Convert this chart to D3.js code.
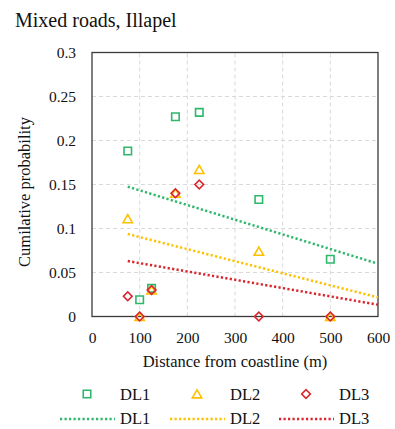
<!DOCTYPE html>
<html>
<head>
<meta charset="utf-8">
<script src="https://cdn.jsdelivr.net/npm/d3@7"></script>
<style>
  body { margin: 0; background: #fff; }
  text { font-family: "Liberation Serif", "Times New Roman", serif; fill: #111; }
</style>
</head>
<body>
<div id="chart"></div>
<script>
// distances (m) and cumulative probability per damage level
let distances = [75, 100, 125, 175, 225, 350, 500];
let dl1 = [0.188, 0.019, 0.032, 0.227, 0.232, 0.133, 0.065];
let dl2 = [0.111, 0, 0.030, 0.140, 0.167, 0.074, 0];
let dl3 = [0.023, 0, 0.030, 0.140, 0.150, 0, 0];

// trend lines: [x, y] at both ends
let trend1 = [[75, 0.1475], [600, 0.060]];
let trend2 = [[75, 0.0937], [600, 0.0217]];
let trend3 = [[75, 0.063], [600, 0.0134]];

let xTicks = [0, 100, 200, 300, 400, 500, 600];
let yTicks = [0, 0.05, 0.1, 0.15, 0.2, 0.25, 0.3];
let names = ['DL1', 'DL2', 'DL3'];
let colors = ['#2eb86b', '#ffc000', '#d9262c'];

//----------------------------------------
// SVG setup
let width = 395,
    height = 429;
let margin = {left: 92, right: 17, top: 52.5, bottom: 112.5};

let svg = d3.select('#chart').append('svg')
    .attr('width', width)
    .attr('height', height);

let x = d3.scaleLinear().domain([0, 600]).range([margin.left, width - margin.right]);
let y = d3.scaleLinear().domain([0, 0.3]).range([height - margin.bottom, margin.top]);

// title
svg.append('text')
    .attr('x', 15).attr('y', 27)
    .style('font-size', '20px')
    .text('Mixed roads, Illapel');

// grid
svg.append('g').selectAll('line')
    .data(xTicks.slice(1, -1))
    .enter().append('line')
    .attr('x1', d => x(d)).attr('x2', d => x(d))
    .attr('y1', y(0)).attr('y2', y(0.3))
    .style('stroke', '#d9d9d9').style('stroke-dasharray', '4,3');
svg.append('g').selectAll('line')
    .data(yTicks.slice(1, -1))
    .enter().append('line')
    .attr('x1', x(0)).attr('x2', x(600))
    .attr('y1', d => y(d)).attr('y2', d => y(d))
    .style('stroke', '#d9d9d9').style('stroke-dasharray', '4,3');

// axes (labels only, the box is drawn separately)
let xAxis = svg.append('g')
    .attr('transform', 'translate(0,' + y(0) + ')')
    .call(d3.axisBottom(x).tickValues(xTicks).tickSize(0).tickPadding(15).tickFormat(d3.format('d')));
let yAxis = svg.append('g')
    .attr('transform', 'translate(' + x(0) + ',0)')
    .call(d3.axisLeft(y).tickValues(yTicks).tickSize(0).tickPadding(16).tickFormat(d => d === 0 ? '0' : String(d)));
[xAxis, yAxis].forEach(function(a) {
    a.attr('font-family', null);
    a.select('.domain').remove();
    a.selectAll('text').style('font-size', '15.5px');
});

// plot frame
svg.append('rect')
    .attr('x', x(0)).attr('y', y(0.3))
    .attr('width', x(600) - x(0)).attr('height', y(0) - y(0.3))
    .style('fill', 'none').style('stroke', '#3a3a3a').style('stroke-width', 1.3);

// axis titles
svg.append('text')
    .attr('x', (x(0) + x(600)) / 2).attr('y', 367)
    .attr('text-anchor', 'middle')
    .style('font-size', '16.5px')
    .text('Distance from coastline (m)');
svg.append('text')
    .attr('transform', 'translate(30,192) rotate(-90)')
    .attr('text-anchor', 'middle')
    .style('font-size', '16.5px')
    .text('Cumilative probability');

// trend lines
let line = d3.line().x(d => x(d[0])).y(d => y(d[1]));
[trend1, trend2, trend3].forEach(function(t, i) {
    svg.append('path')
        .attr('d', line(t))
        .style('fill', 'none')
        .style('stroke', colors[i])
        .style('stroke-width', 2.5)
        .style('stroke-dasharray', '2.2,2.3');
});

// markers: square, triangle, diamond (square turned 45 degrees)
let symbols = [d3.symbolSquare, d3.symbolTriangle, d3.symbolSquare];
let sizes = [56, 38, 38];
let rotations = [0, 0, 45];
let shifts = [0, 1.2, 0];
let series = [dl1, dl2, dl3];
function marker(g, i, cx, cy) {
    return g.append('path')
        .attr('d', d3.symbol().type(symbols[i]).size(sizes[i])())
        .attr('transform', 'translate(' + cx + ',' + (cy + shifts[i]) + ') rotate(' + rotations[i] + ')')
        .style('fill', 'none')
        .style('stroke', colors[i])
        .style('stroke-width', 1.6);
}
series.forEach(function(vals, i) {
    let g = svg.append('g');
    vals.forEach(function(v, j) {
        marker(g, i, x(distances[j]), y(v));
    });
});

//----------------------------------------
// legend
let legX = [87, 197, 306];
names.forEach(function(n, i) {
    marker(svg, i, legX[i], 394);
    svg.append('text')
        .attr('x', legX[i] + 33).attr('y', 400)
        .style('font-size', '16.5px')
        .text(n);
    svg.append('line')
        .attr('x1', legX[i] - 27).attr('x2', legX[i] + 28)
        .attr('y1', 419).attr('y2', 419)
        .style('stroke', colors[i])
        .style('stroke-width', 2.5)
        .style('stroke-dasharray', '2.2,2.3');
    svg.append('text')
        .attr('x', legX[i] + 33).attr('y', 424)
        .style('font-size', '16.5px')
        .text(n);
});

// same serif face for every label
svg.selectAll('text')
    .attr('font-family', 'Liberation Serif')
    .style('font-family', '"Liberation Serif", serif')
    .style('fill', '#111');
</script>
</body>
</html>
